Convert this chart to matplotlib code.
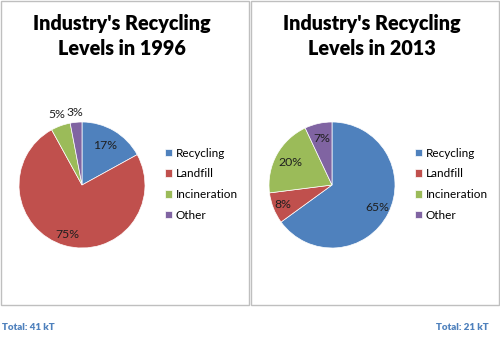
import matplotlib

matplotlib.use('agg')

import numpy as np
import matplotlib.pyplot as plt
from matplotlib.patches import Rectangle

plt.rcParams['font.family'] = ['Lato', 'DejaVu Sans']

categories = ['Recycling', 'Landfill', 'Incineration', 'Other']
colors = ['#4F81BD', '#C0504D', '#9BBB59', '#8064A2']

years = ['1996', '2013']
shares_1996 = [17, 75, 5, 3]
shares_2013 = [65, 8, 20, 7]
totals = ['Total: 41 kT', 'Total: 21 kT']

# per-label radial distance (fraction of radius), small slices pushed outside
label_dist_1996 = [0.72, 0.82, 1.19, 1.15]
label_dist_2013 = [0.80, 0.84, 0.75, 0.76]

W, H = 500, 337
fig = plt.figure(figsize=(W / 100, H / 100), dpi=100)


def px_box(x0, y0, x1, y1):
    return [x0 / W, 1 - y1 / H, (x1 - x0) / W, (y1 - y0) / H]


def draw_panel(x_off, year, shares, dists):
    # chart frame, kept behind the pie axes
    fig.add_artist(Rectangle(((x_off + 1) / W, 1 - 305 / H), 248 / W, 304 / H,
                             transform=fig.transFigure, facecolor='white',
                             edgecolor='#BFBFBF', lw=1.0, zorder=-1))
    fig.text((x_off + 122) / W, 1 - 36 / H, "Industry's Recycling\nLevels in " + year,
             ha='center', va='center', fontsize=14.2, fontweight='heavy',
             linespacing=1.32, color='black')

    cx, cy, r = x_off + 82, 185, 63
    ax = fig.add_axes(px_box(cx - r, cy - r, cx + r, cy + r))
    wedges, _ = ax.pie(shares, colors=colors, startangle=90, counterclock=False,
                       radius=1, wedgeprops=dict(edgecolor='white', linewidth=0.5))
    ax.set_xlim(-1, 1)
    ax.set_ylim(-1, 1)
    ax.set_aspect('equal')
    ax.axis('off')

    for w, v, d in zip(wedges, shares, dists):
        mid = np.deg2rad((w.theta1 + w.theta2) / 2)
        ax.text(d * np.cos(mid), d * np.sin(mid), f'{v}%', ha='center', va='center',
                fontsize=8.8, color='#1F1F1F', clip_on=False)

    ax.legend(wedges, categories, loc='upper left', frameon=False,
              bbox_to_anchor=((x_off + 160) / W, 1 - 143 / H),
              bbox_transform=fig.transFigure, fontsize=8.5,
              handlelength=0.6, handleheight=0.6, handletextpad=0.35,
              labelspacing=0.82, borderaxespad=0)


draw_panel(0, years[0], shares_1996, label_dist_1996)
draw_panel(250, years[1], shares_2013, label_dist_2013)

fig.text(2 / W, 1 - 328 / H, totals[0], ha='left', va='center',
         fontsize=7, fontweight='heavy', color='#4F81BD')
fig.text(489 / W, 1 - 328 / H, totals[1], ha='right', va='center',
         fontsize=7, fontweight='heavy', color='#4F81BD')

plt.savefig('out.png', dpi=100)
